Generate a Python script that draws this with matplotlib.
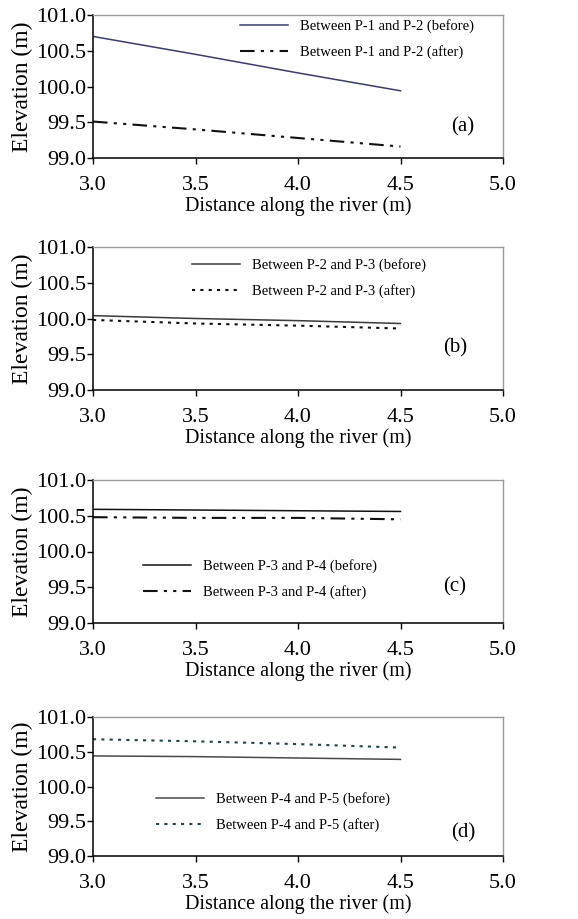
import matplotlib
matplotlib.use("Agg")
import matplotlib.pyplot as plt

plt.rcParams['font.family'] = ['Liberation Serif', 'DejaVu Serif']

# Distance along the river (m)
distance = [3.0, 3.5, 4.0, 4.5]

# Elevation profiles (m) between piezometer pairs, before and after
p12_before = [100.70, 100.45, 100.19, 99.94]
p12_after = [99.51, 99.40, 99.28, 99.16]

p23_before = [100.04, 100.00, 99.97, 99.93]
p23_after = [99.98, 99.93, 99.90, 99.86]

p34_before = [100.59, 100.58, 100.57, 100.56]
p34_after = [100.48, 100.47, 100.47, 100.45]

p45_before = [100.44, 100.43, 100.41, 100.39]
p45_after = [100.68, 100.65, 100.61, 100.56]

labels_before = ["Between P-1 and P-2 (before)", "Between P-2 and P-3 (before)",
                 "Between P-3 and P-4 (before)", "Between P-4 and P-5 (before)"]
labels_after = ["Between P-1 and P-2 (after)", "Between P-2 and P-3 (after)",
                "Between P-3 and P-4 (after)", "Between P-4 and P-5 (after)"]
panel_tags = ["(a)", "(b)", "(c)", "(d)"]

x_ticks = [3.0, 3.5, 4.0, 4.5, 5.0]
y_ticks = [99.0, 99.5, 100.0, 100.5, 101.0]

befores = [p12_before, p23_before, p34_before, p45_before]
afters = [p12_after, p23_after, p34_after, p45_after]

W, H = 578, 919
fig = plt.figure(figsize=(W / 100, H / 100), dpi=100)

# pixel boxes: (left, right, top, bottom)
boxes = [(93, 503, 15, 158), (93, 503, 247, 390), (93, 503, 480, 623), (93, 503, 717, 856)]

before_colors = ["#3a3a78", "#3a3a3a", "#111111", "#4a4a4a"]
after_colors = ["#111111", "#111111", "#111111", "#1d4848"]
dashdotdot = (0, (7, 3, 1.5, 3, 1.5, 3))
after_styles = [dashdotdot, (0, (1.5, 2.5)), dashdotdot, (0, (1.5, 2.5))]

# legend anchor (upper-left of handle) in pixels, and tag position
legend_px = [(240, 19), (192, 258), (143, 559), (156, 792)]
tag_px = [(463, 127), (455, 348), (455, 587), (463, 833)]

for i in range(4):
    l, r, t, b = boxes[i]
    ax = fig.add_axes([l / W, 1 - b / H, (r - l) / W, (b - t) / H])
    ax.plot(distance, befores[i], color=before_colors[i], lw=1.1, ls='-',
            label=labels_before[i])
    ax.plot(distance, afters[i], color=after_colors[i], lw=1.5, ls=after_styles[i],
            label=labels_after[i])
    ax.set_xlim(3.0, 5.0)
    ax.set_ylim(99.0, 101.0)
    ax.set_xticks(x_ticks)
    ax.set_yticks(y_ticks)
    ax.set_xticklabels([f"{v:.1f}" for v in x_ticks])
    ax.set_yticklabels([f"{v:.1f}" for v in y_ticks])
    ax.tick_params(axis='both', direction='out', length=4, width=1,
                   labelsize=16, colors='black')
    ax.tick_params(axis='x', pad=9)
    ax.tick_params(axis='y', pad=1)
    for s in ('top', 'right'):
        ax.spines[s].set_color('#9a9a9a')
        ax.spines[s].set_linewidth(1.0)
    for s in ('left', 'bottom'):
        ax.spines[s].set_color('black')
        ax.spines[s].set_linewidth(1.1)
    ax.set_xlabel("Distance along the river (m)", fontsize=14.5, labelpad=1)
    ax.set_ylabel("Elevation (m)", fontsize=17, labelpad=2)
    lx, ly = legend_px[i]
    ax.legend(loc='upper left',
              bbox_to_anchor=((lx - l) / (r - l), 1 - (ly - t) / (b - t)),
              frameon=False, fontsize=10.5, handlelength=3.3, handletextpad=0.8,
              labelspacing=0.85, borderpad=0, borderaxespad=0)
    tx, ty = tag_px[i]
    ax.text((tx - l) / (r - l), 1 - (ty - t) / (b - t), panel_tags[i],
            transform=ax.transAxes, fontsize=15, ha='center', va='center')

fig.savefig("out.png", dpi=100)
